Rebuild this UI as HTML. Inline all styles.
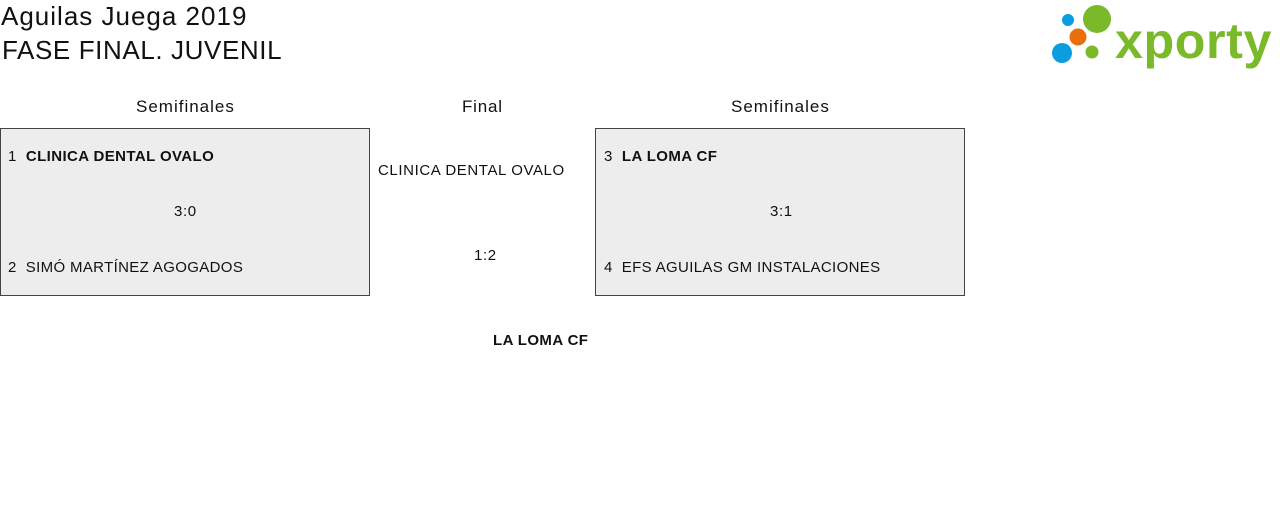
<!DOCTYPE html>
<html><head><style>
body{margin:0;width:1280px;height:514px;background:#fff;font-family:"Liberation Sans",sans-serif;color:#111;position:relative;overflow:hidden}
.a{position:absolute;white-space:nowrap;letter-spacing:0.6px}
.s{letter-spacing:0.35px}
.b{letter-spacing:0.4px}
.box{position:absolute;border:1px solid #444;background:#ededed;width:368px;height:166px}
</style></head><body>
<div class="a" style="left:1px;top:1px;font-size:26px;letter-spacing:1px">Aguilas Juega 2019</div>
<div class="a" style="left:2px;top:35px;font-size:26px;letter-spacing:0.6px">FASE FINAL. JUVENIL</div>
<svg class="a" style="left:1040px;top:0" width="240" height="75">
<circle cx="28" cy="20" r="6" fill="#0b9de0"/>
<circle cx="57" cy="19" r="14" fill="#7ab929"/>
<circle cx="38" cy="37" r="8.5" fill="#e86f0c"/>
<circle cx="22" cy="53" r="10" fill="#0b9de0"/>
<circle cx="52" cy="52" r="6.5" fill="#7ab929"/>
<text x="75" y="58" font-family="Liberation Sans" font-weight="bold" font-size="50" fill="#7ab929" textLength="157" lengthAdjust="spacingAndGlyphs">xporty</text>
</svg>
<div class="a" style="left:136px;top:97px;font-size:17px;letter-spacing:1px">Semifinales</div>
<div class="a" style="left:462px;top:97px;font-size:17px;letter-spacing:0.8px">Final</div>
<div class="a" style="left:731px;top:97px;font-size:17px;letter-spacing:1px">Semifinales</div>
<div class="box" style="left:0;top:128px"></div>
<div class="box" style="left:595px;top:128px"></div>
<div class="a b" style="left:8px;top:148px;font-size:15px">1&nbsp; <b>CLINICA DENTAL OVALO</b></div>
<div class="a" style="left:174px;top:203px;font-size:15px">3:0</div>
<div class="a s" style="left:8px;top:259px;font-size:15px">2&nbsp; SIMÓ MARTÍNEZ AGOGADOS</div>
<div class="a b" style="left:604px;top:148px;font-size:15px">3&nbsp;&nbsp;<b>LA LOMA CF</b></div>
<div class="a" style="left:770px;top:203px;font-size:15px">3:1</div>
<div class="a s" style="left:604px;top:259px;font-size:15px">4&nbsp; EFS AGUILAS GM INSTALACIONES</div>
<div class="a" style="left:378px;top:162px;font-size:15px">CLINICA DENTAL OVALO</div>
<div class="a" style="left:474px;top:247px;font-size:15px">1:2</div>
<div class="a b" style="left:493px;top:332px;font-size:15px;font-weight:bold">LA LOMA CF</div>
</body></html>
